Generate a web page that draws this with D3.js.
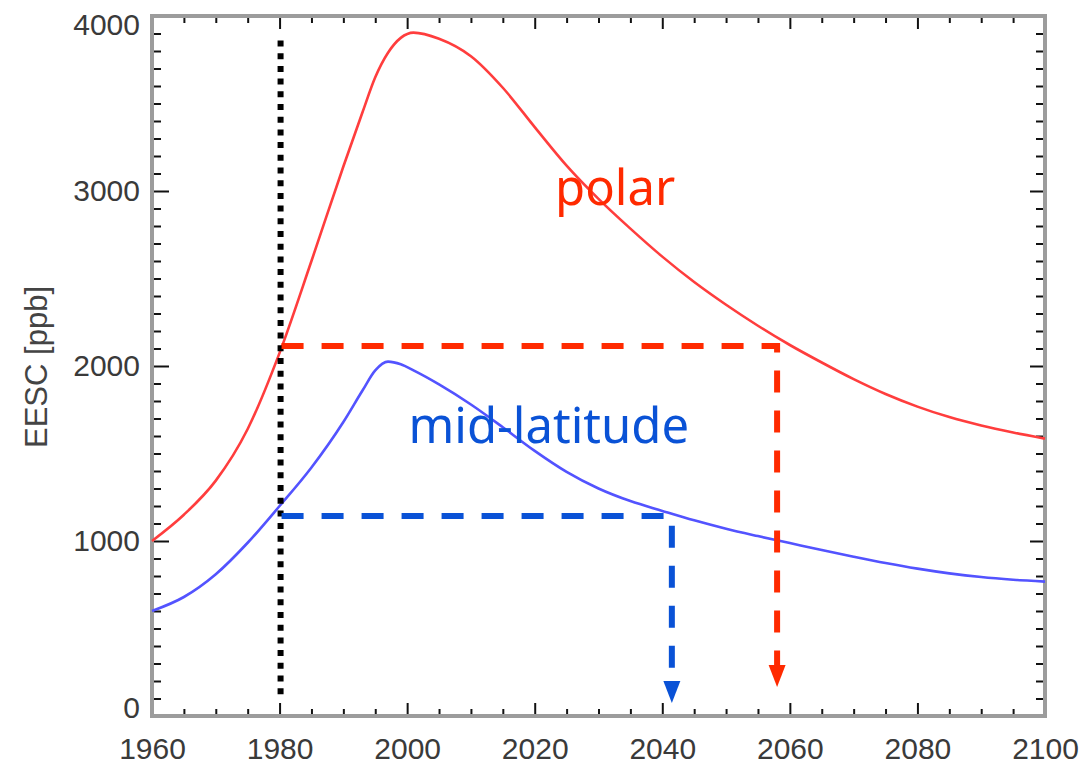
<!DOCTYPE html>
<html>
<head>
<meta charset="utf-8">
<script src="https://cdn.jsdelivr.net/npm/d3@7"></script>
<style>
  html, body { margin: 0; padding: 0; background: #fff; }
  svg { display: block; }
  .tick text { font-family: "Liberation Sans", Arial, sans-serif; font-size: 30px; fill: #3a3a3a; }
</style>
</head>
<body>
<svg id="chart" width="1084" height="765"></svg>
<script>
// EESC time series (ppb)
const years = [1960, 1965, 1970, 1975, 1980, 1985, 1990, 1993, 1995, 1997, 1999, 2001, 2005,
               2010, 2015, 2020, 2025, 2030, 2035, 2040, 2045, 2050, 2055, 2060, 2065, 2070,
               2075, 2080, 2085, 2090, 2095, 2100];
const polar = [1000, 1150, 1345, 1640, 2075, 2600, 3140, 3450, 3650, 3790, 3875, 3905, 3870,
               3770, 3590, 3365, 3145, 2955, 2785, 2625, 2480, 2350, 2230, 2120, 2020, 1925,
               1840, 1768, 1708, 1660, 1620, 1585];
const midLatitude = [600, 680, 810, 990, 1200, 1420, 1680, 1860, 1975, 2025, 2010, 1975, 1895,
                     1780, 1650, 1515, 1395, 1300, 1228, 1172, 1118, 1070, 1028, 988, 948, 910,
                     874, 842, 815, 794, 779, 768];

// 1980 reference level and the year each series returns to it
const refYear = 1980;
const refRange = [120, 3860];
const returnLevels = [2114, 1143];   // polar, mid-latitude
const returnYears = [2058, 2041.5];
const arrowEnds = [166, 74];

// Axis ticks
const xMajor = [1960, 1980, 2000, 2020, 2040, 2060, 2080, 2100];
const xMinor = d3.range(1960, 2101, 5).filter(v => v % 20 !== 0);
const yMajor = [0, 1000, 2000, 3000, 4000];
const yMinor = d3.range(0, 4001, 100).filter(v => v % 1000 !== 0);

// Series labels, placed in data coordinates (year, ppb)
const labelNames = ["polar", "mid-latitude"];
const labelPos = [[2032.6, 2920], [2022.2, 1560]];

const seriesColors = ["#ff3d3d", "#5252ff"];
const guideColors = ["#ff2a00", "#0a52d6"];

const svg = d3.select("#chart");
const x = d3.scaleLinear([1960, 2100], [152, 1045]);
const y = d3.scaleLinear([0, 4000], [716, 16]);

const defs = svg.append("defs");
defs.append("filter").attr("id", "soft")
  .append("feGaussianBlur").attr("stdDeviation", 0.6);

// Ticks (inward on all four sides)
function tickAxis(axis, transform, label) {
  const g = svg.append("g").attr("transform", transform).call(axis);
  g.select(".domain").remove();
  g.selectAll(".tick line").attr("stroke", "#111").attr("stroke-width", 2);
  if (!label) g.selectAll(".tick text").remove();
  return g;
}
const fmt = d3.format("d");
tickAxis(d3.axisBottom(x).tickValues(xMinor).tickSize(-7).tickFormat(""), "translate(0,716)");
tickAxis(d3.axisBottom(x).tickValues(xMajor).tickSize(-13).tickPadding(22).tickFormat(fmt), "translate(0,716)", true);
tickAxis(d3.axisTop(x).tickValues(xMinor).tickSize(-7).tickFormat(""), "translate(0,16)");
tickAxis(d3.axisTop(x).tickValues(xMajor).tickSize(-13).tickFormat(""), "translate(0,16)");

tickAxis(d3.axisLeft(y).tickValues(yMinor).tickSize(-9).tickFormat(""), "translate(152,0)");
const gy = tickAxis(d3.axisLeft(y).tickValues(yMajor).tickSize(-17).tickPadding(12).tickFormat(fmt), "translate(152,0)", true);
tickAxis(d3.axisRight(y).tickValues(yMinor).tickSize(-9).tickFormat(""), "translate(1045,0)");
tickAxis(d3.axisRight(y).tickValues(yMajor).tickSize(-15).tickFormat(""), "translate(1045,0)");

// keep the end labels inside the frame span
gy.selectAll(".tick text").filter(d => d === 0).attr("dy", "0.05em");
gy.selectAll(".tick text").filter(d => d === 4000).attr("dy", "0.62em");

// Frame
svg.append("rect")
  .attr("x", x(1960)).attr("y", y(4000))
  .attr("width", x(2100) - x(1960)).attr("height", y(0) - y(4000))
  .attr("fill", "none").attr("stroke", "#9c9c9c").attr("stroke-width", 4);

// Y axis title
svg.append("text")
  .attr("transform", `translate(47,${(y(0) + y(4000)) / 2 + 1}) rotate(-90)`)
  .attr("text-anchor", "middle")
  .style("font-family", "'Liberation Sans', Arial, sans-serif")
  .style("font-size", "31px").attr("fill", "#444")
  .text("EESC [ppb]");

// Curves
const line = d3.line().x(d => x(d[0])).y(d => y(d[1])).curve(d3.curveMonotoneX);
[polar, midLatitude].forEach((vals, i) => {
  svg.append("path")
    .datum(years.map((yr, k) => [yr, vals[k]]))
    .attr("d", line)
    .attr("fill", "none")
    .attr("stroke", seriesColors[i])
    .attr("stroke-width", 2.6)
    .attr("filter", "url(#soft)");
});

// 1980 dotted reference
svg.append("line")
  .attr("x1", x(refYear) + 1).attr("x2", x(refYear) + 1)
  .attr("y1", y(refRange[1])).attr("y2", y(refRange[0]))
  .attr("stroke", "#000").attr("stroke-width", 6)
  .attr("stroke-dasharray", "6 6.7");

// Return-to-1980 guides with arrows
const arrowH = 22, arrowW = 17;
returnLevels.forEach((lvl, i) => {
  const x0 = x(refYear) + 2, x1 = x(returnYears[i]);
  const yl = y(lvl), tip = y(arrowEnds[i]);
  svg.append("path")
    .attr("d", `M${x0},${yl}H${x1}V${tip - arrowH + 2}`)
    .attr("fill", "none")
    .attr("stroke", guideColors[i]).attr("stroke-width", 6)
    .attr("stroke-dasharray", "22 18");
  svg.append("path")
    .attr("d", `M${x1 - arrowW / 2},${tip - arrowH}L${x1 + arrowW / 2},${tip - arrowH}L${x1},${tip}Z`)
    .attr("fill", guideColors[i]);
});

// Series labels
labelNames.forEach((name, i) => {
  svg.append("text")
    .attr("x", x(labelPos[i][0])).attr("y", y(labelPos[i][1]))
    .attr("text-anchor", "middle")
    .style("font-family", "'Comic Sans MS', 'Noto Sans', sans-serif")
    .style("font-size", "49px")
    .attr("fill", guideColors[i])
    .text(name);
});
</script>
</body>
</html>
